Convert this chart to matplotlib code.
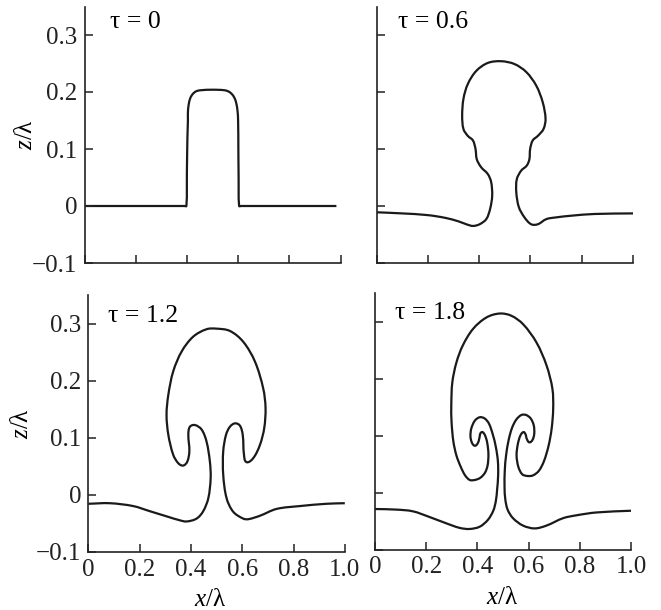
import matplotlib
matplotlib.use("Agg")
import matplotlib.pyplot as plt
import numpy as np
from matplotlib.path import Path
from matplotlib.patches import PathPatch

plt.rcParams['font.family'] = 'Liberation Serif'
plt.rcParams['mathtext.fontset'] = 'custom'
plt.rcParams['mathtext.rm'] = 'Liberation Serif'
plt.rcParams['mathtext.it'] = 'Liberation Serif:italic'
plt.rcParams['axes.unicode_minus'] = True

# interface shape z(x) at four moments of time
tau_labels = ['τ = 0', 'τ = 0.6', 'τ = 1.2', 'τ = 1.8']

x_t0 = [0, 0.39, 0.398, 0.400, 0.402, 0.404, 0.404, 0.407, 0.413, 0.422, 0.435,
        0.452, 0.50, 0.548, 0.566, 0.580, 0.590, 0.597, 0.600, 0.601, 0.602,
        0.604, 0.612, 0.984]
z_t0 = [0, 0, 0, 0.06, 0.12, 0.15, 0.165, 0.178, 0.189, 0.196, 0.201,
        0.203, 0.204, 0.203, 0.200, 0.194, 0.185, 0.170, 0.150, 0.10, 0.05,
        0, 0, 0]

x_t06 = [0, 0.1, 0.2, 0.27, 0.32, 0.35, 0.376, 0.402, 0.428, 0.443, 0.451, 0.447,
         0.434, 0.408, 0.391, 0.386, 0.376, 0.356, 0.339, 0.334, 0.339, 0.356,
         0.389, 0.434, 0.486, 0.538, 0.584, 0.623, 0.648, 0.659, 0.651, 0.629,
         0.609, 0.599, 0.596, 0.586, 0.564, 0.547, 0.545, 0.555, 0.577, 0.603,
         0.629, 0.662, 0.70, 0.76, 0.85, 1.0]
z_t06 = [-0.011, -0.013, -0.016, -0.021, -0.027, -0.032, -0.035, -0.032, -0.023,
         -0.005, 0.018, 0.042, 0.056, 0.068, 0.082, 0.100, 0.115, 0.123, 0.135,
         0.158, 0.188, 0.214, 0.237, 0.251, 0.254, 0.249, 0.235, 0.211, 0.182,
         0.153, 0.135, 0.123, 0.115, 0.100, 0.082, 0.071, 0.062, 0.047, 0.024,
         -0.002, -0.020, -0.032, -0.032, -0.023, -0.020, -0.017, -0.014, -0.013]

x_t12 = [0, 0.084, 0.175, 0.240, 0.305, 0.357, 0.383, 0.422, 0.448, 0.468, 0.477,
         0.474, 0.461, 0.442, 0.416, 0.396, 0.390, 0.394, 0.386, 0.370, 0.351,
         0.331, 0.312, 0.305, 0.312, 0.331, 0.364, 0.409, 0.461, 0.500, 0.552,
         0.604, 0.650, 0.682, 0.691, 0.686, 0.669, 0.643, 0.617, 0.607, 0.602,
         0.591, 0.572, 0.552, 0.537, 0.526, 0.526, 0.539, 0.565, 0.604, 0.624,
         0.669, 0.734, 0.825, 0.929, 1.0]
z_t12 = [-0.016, -0.015, -0.020, -0.029, -0.038, -0.045, -0.047, -0.042, -0.029,
         -0.006, 0.029, 0.058, 0.093, 0.114, 0.122, 0.119, 0.105, 0.076, 0.058,
         0.051, 0.055, 0.070, 0.105, 0.140, 0.175, 0.216, 0.251, 0.277, 0.290,
         0.291, 0.287, 0.268, 0.233, 0.186, 0.152, 0.117, 0.087, 0.064, 0.057,
         0.070, 0.105, 0.121, 0.125, 0.119, 0.105, 0.076, 0.035, -0.006, -0.030,
         -0.042, -0.043, -0.037, -0.025, -0.020, -0.016, -0.015]

x_t18 = [0, 0.083, 0.148, 0.213, 0.278, 0.330, 0.369, 0.409, 0.441, 0.462, 0.472,
         0.477, 0.481, 0.480, 0.472, 0.460, 0.445, 0.428, 0.409, 0.390, 0.376,
         0.373, 0.379, 0.390, 0.401, 0.407, 0.412, 0.420, 0.430, 0.438, 0.443,
         0.440, 0.430, 0.412, 0.390, 0.370, 0.352, 0.335, 0.318, 0.306, 0.299,
         0.298, 0.302, 0.318, 0.343, 0.383, 0.435, 0.487, 0.533, 0.579, 0.631,
         0.670, 0.693, 0.696, 0.690, 0.678, 0.660, 0.640, 0.617, 0.595, 0.575,
         0.560, 0.553, 0.558, 0.568, 0.580, 0.588, 0.593, 0.603, 0.615, 0.622,
         0.620, 0.608, 0.590, 0.572, 0.552, 0.535, 0.522, 0.512, 0.507, 0.506,
         0.509, 0.518, 0.539, 0.578, 0.624, 0.670, 0.735, 0.787, 0.865, 1.0]
z_t18 = [-0.029, -0.030, -0.033, -0.043, -0.054, -0.062, -0.064, -0.060, -0.048,
         -0.032, -0.015, 0.005, 0.030, 0.055, 0.080, 0.102, 0.121, 0.130, 0.132,
         0.126, 0.112, 0.098, 0.087, 0.082, 0.086, 0.094, 0.104, 0.106, 0.100,
         0.088, 0.068, 0.048, 0.035, 0.026, 0.022, 0.022, 0.030, 0.045, 0.065,
         0.090, 0.124, 0.153, 0.193, 0.228, 0.258, 0.287, 0.307, 0.314, 0.310,
         0.295, 0.263, 0.223, 0.182, 0.147, 0.112, 0.082, 0.055, 0.038, 0.030,
         0.029, 0.032, 0.045, 0.065, 0.085, 0.100, 0.106, 0.102, 0.094, 0.088,
         0.092, 0.103, 0.118, 0.130, 0.136, 0.136, 0.128, 0.113, 0.092, 0.065,
         0.039, 0.010, -0.012, -0.030, -0.045, -0.058, -0.063, -0.058, -0.045,
         -0.040, -0.035, -0.032]

x_ticks = [0, 0.2, 0.4, 0.6, 0.8, 1.0]
x_ticklabels = ['0', '0.2', '0.4', '0.6', '0.8', '1.0']
z_ticks = [-0.1, 0, 0.1, 0.2, 0.3]
z_ticklabels = ['\u22120.1', '0', '0.1', '0.2', '0.3']

curves = [(x_t0, z_t0), (x_t06, z_t06), (x_t12, z_t12), (x_t18, z_t18)]


def smooth_path(x, z, k=2.22):
    # cubic Bezier through every point, tangents taken in a roughly square frame
    pts = np.column_stack([x, np.asarray(z) * k])
    n = len(pts)
    verts = [pts[0]]
    codes = [Path.MOVETO]
    for i in range(n - 1):
        p0 = pts[max(i - 1, 0)]
        p1, p2 = pts[i], pts[i + 1]
        p3 = pts[min(i + 2, n - 1)]
        seg = np.linalg.norm(p2 - p1)
        d1 = p2 - p0
        d2 = p3 - p1
        d1 = d1 / (np.linalg.norm(d1) or 1)
        d2 = d2 / (np.linalg.norm(d2) or 1)
        verts += [p1 + d1 * seg / 3, p2 - d2 * seg / 3, p2]
        codes += [Path.CURVE4] * 3
    verts = np.array(verts)
    verts[:, 1] /= k
    return Path(verts, codes)


W, H = 661, 610
fig = plt.figure(figsize=(W / 100, H / 100), dpi=100)

# axes boxes in pixels: left, right, top, bottom
boxes = [(84.5, 340.5, 6.5, 263), (376.5, 633, 6.5, 263),
         (88.3, 344.8, 295, 551.7), (375, 631, 293, 549.5)]
tau_pos = [(0.10, 0.94), (0.084, 0.94), (0.077, 0.92), (0.078, 0.922)]

for i, ((x, z), (l, r, t, b)) in enumerate(zip(curves, boxes)):
    ax = fig.add_axes([l / W, 1 - b / H, (r - l) / W, (b - t) / H])
    ax.add_patch(PathPatch(smooth_path(x, z), fill=False, edgecolor='#1a1a1a',
                           lw=1.6, joinstyle='round', capstyle='butt'))
    ax.set_xlim(0, 1.0)
    ax.set_ylim(-0.1, 0.35)
    ax.spines['top'].set_visible(False)
    ax.spines['right'].set_visible(False)
    for s in ('left', 'bottom'):
        ax.spines[s].set_linewidth(1.2)
        ax.spines[s].set_color('#222222')
    ax.set_xticks(x_ticks)
    ax.set_yticks(z_ticks)
    ax.tick_params(direction='in', length=6, width=1.1, colors='#222222',
                   labelsize=18, pad=5)
    if i >= 2:
        ax.set_xticklabels(x_ticklabels)
        ax.set_xlabel(r'$\mathit{x}$/λ', fontsize=18)
        ax.xaxis.set_label_coords(0.474 if i == 2 else 0.496, -0.145)
    else:
        ax.set_xticklabels([])
    if i % 2 == 0:
        ax.set_yticklabels(z_ticklabels)
        ax.set_ylabel(r'$\mathit{z}$/λ', fontsize=18)
        ax.yaxis.set_label_coords(-0.186 if i == 0 else -0.216, 0.5)
    else:
        ax.set_yticklabels([])
    ax.text(tau_pos[i][0], tau_pos[i][1], tau_labels[i], transform=ax.transAxes,
            fontsize=18.5, ha='left', va='center')

fig.savefig('out.png', dpi=100)
